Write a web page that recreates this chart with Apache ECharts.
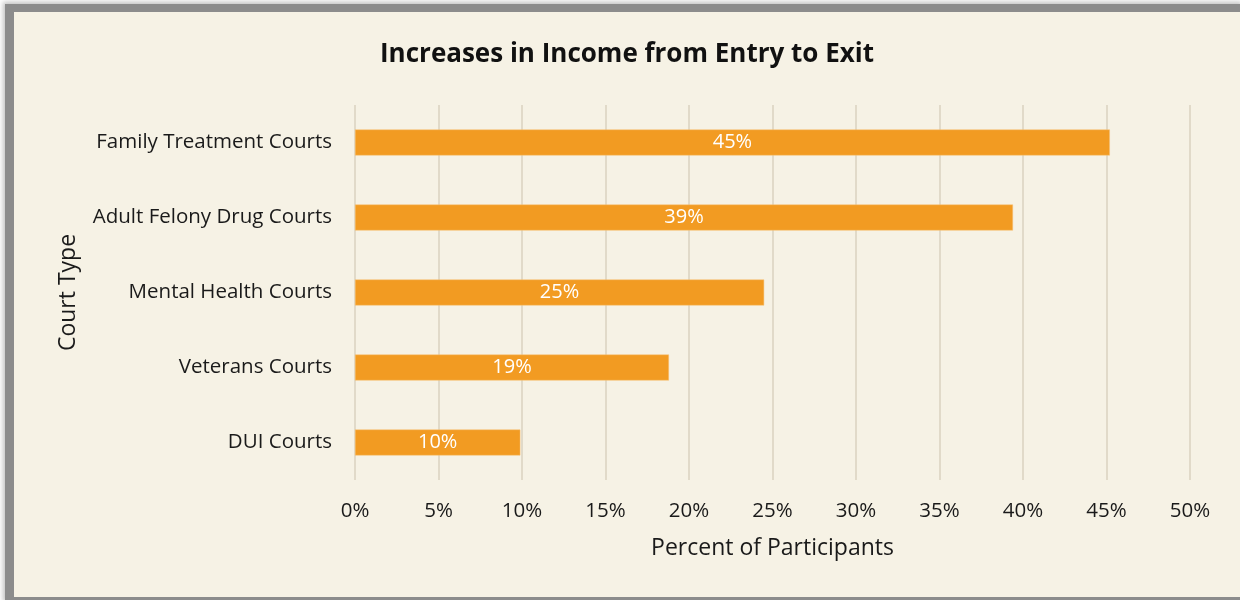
<!DOCTYPE html>
<html>
<head>
<meta charset="utf-8">
<script src="https://cdn.jsdelivr.net/npm/echarts@6/dist/echarts.min.js"></script>
<style>
  html, body { margin: 0; padding: 0; background: #fff; width: 1240px; height: 600px; overflow: hidden; }
  #frame { position: absolute; left: 5px; top: 4px; right: 0; bottom: 0; background: #8c8c8c;
           box-shadow: 0 0 5px 2px rgba(140,140,140,0.55); }
  #chart { position: absolute; left: 14px; top: 12px; width: 1226px; height: 585px; background: #f6f2e5; }
</style>
</head>
<body>
<div id="frame"></div>
<div id="chart"></div>
<script>
// court types, bottom to top as drawn
const courts = ["DUI Courts", "Veterans Courts", "Mental Health Courts", "Adult Felony Drug Courts", "Family Treatment Courts"];
const pctIncrease = [9.9, 18.8, 24.5, 39.4, 45.2];

const font = "'Open Sans', 'Liberation Sans', sans-serif";
const chart = echarts.init(document.getElementById("chart"));

chart.setOption({
  backgroundColor: "#f6f2e5",
  animation: false,
  title: {
    text: "Increases in Income from Entry to Exit",
    left: "center",
    top: 25,
    textStyle: { fontFamily: font, fontSize: 26, fontWeight: "bold", color: "#111" },
  },
  grid: { left: 341, right: 50, top: 93, bottom: 117 },
  xAxis: {
    type: "value",
    min: 0, max: 50, interval: 5,
    axisLabel: { formatter: "{value}%", margin: 21, fontFamily: font, fontSize: 20.5, color: "#1a1a1a" },
    axisLine: { show: false },
    axisTick: { show: false },
    splitLine: { lineStyle: { color: "#e1dac9", width: 2 } },
    name: "Percent of Participants",
    nameLocation: "middle",
    nameGap: 57,
    nameTextStyle: { fontFamily: font, fontSize: 23, color: "#1a1a1a" },
  },
  yAxis: {
    type: "category",
    data: courts,
    axisLabel: { margin: 23, fontFamily: font, fontSize: 20.5, color: "#1a1a1a" },
    axisLine: { show: false },
    axisTick: { show: false },
    name: "Court Type",
    nameLocation: "middle",
    nameGap: 275,
    nameTextStyle: { fontFamily: font, fontSize: 23, color: "#1a1a1a" },
  },
  series: [{
    type: "bar",
    data: pctIncrease,
    barWidth: 26,
    itemStyle: { color: "#f29b22", borderColor: "#f7c27a", borderWidth: 0.5 },
    label: {
      show: true,
      position: "inside",
      formatter: p => Math.round(p.value) + "%",
      fontFamily: font, fontSize: 20, color: "#fff",
    },
  }],
});
</script>
</body>
</html>
